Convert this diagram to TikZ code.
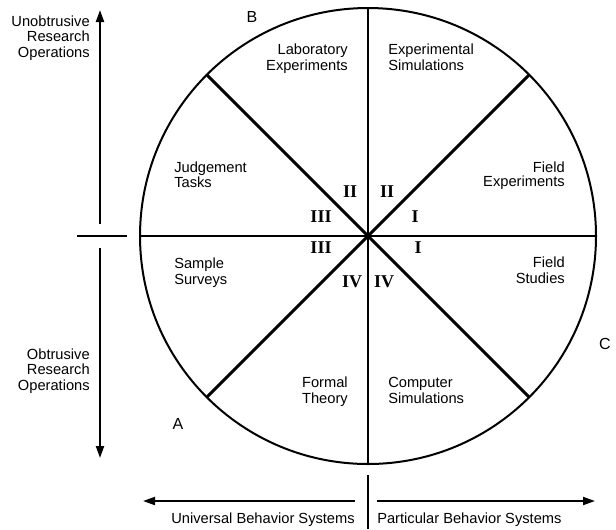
\documentclass[tikz,border=0pt]{standalone}
\usepackage{fontspec}
\setmainfont{Liberation Sans}
\newfontfamily\numfont{Liberation Serif}
\usetikzlibrary{arrows.meta}
\begin{document}
\begin{tikzpicture}[x=0.75pt, y=-0.75pt,
% common options for the texts:
txt/.style = {font=\fontsize{11}{11.6}\selectfont, inner sep=0},
tighttxt/.style = {font=\fontsize{11}{9.8}\selectfont, inner sep=0},
corner/.style = {font=\fontsize{12}{13}\selectfont, anchor=base, inner sep=0},
numeral/.style = {font=\numfont\bfseries\fontsize{13.5}{14}\selectfont,
            anchor=base, inner sep=0},
% common options for the lines:
axis/.style = {line width=1.5pt, -{Triangle[length=9pt,width=6pt]}},
rule/.style = {line width=1.5pt},
spoke/.style = {line width=2.3pt}]
\useasboundingbox (0,0) rectangle (616,529);
\node[circle, draw, line width=1.5pt, minimum size=342pt, inner sep=0,
      outer sep=0] (ring) at (368,236) {};
\draw[spoke] (ring.135) -- (ring.-45);
\draw[spoke] (ring.45) -- (ring.-135);
\draw[rule] (ring.north) -- (ring.south);
\draw[rule] (ring.west) -- (ring.east);
% axes
\coordinate (up0) at (100,224);
\coordinate (up1) at (100,10);
\coordinate (dn0) at (100,248);
\coordinate (dn1) at (100,458);
\coordinate (tickl) at (77,236);
\coordinate (tickr) at (127,236);
\coordinate (lt0) at (355,501);
\coordinate (lt1) at (143,501);
\coordinate (rt0) at (377,501);
\coordinate (rt1) at (595,501);
\coordinate (ticku) at (368,475);
\coordinate (tickd) at (368,529);
\draw[axis] (up0) -- (up1);
\draw[axis] (dn0) -- (dn1);
\draw[rule] (tickl) -- (tickr);
\draw[axis] (lt0) -- (lt1);
\draw[axis] (rt0) -- (rt1);
\draw[rule] (ticku) -- (tickd);
% axis texts
\node[txt, align=right, anchor=base east] (unob) at (90,57) {Unobtrusive\\Research\\Operations};
\node[txt, align=right, anchor=base east] (obtr) at (90,390) {Obtrusive\\Research\\Operations};
\node[txt, anchor=base east] (univ) at (355,523) {Universal Behavior Systems};
\node[txt, anchor=base west] (part) at (377,523) {Particular Behavior Systems};
\node[corner] (A) at (178,429) {A};
\node[corner] (B) at (252,22) {B};
\node[corner] (C) at (605,349) {C};
% sectors
\node[txt, align=right, anchor=base east] (lab) at (348,70) {Laboratory\\Experiments};
\node[txt, align=left, anchor=base west] (esim) at (388,70) {Experimental\\Simulations};
\node[tighttxt, align=left, anchor=base west] (judg) at (174,187) {Judgement\\Tasks};
\node[tighttxt, align=right, anchor=base east] (fexp) at (565,186) {Field\\Experiments};
\node[txt, align=left, anchor=base west] (samp) at (174,284) {Sample\\Surveys};
\node[txt, align=right, anchor=base east] (fstu) at (565,283) {Field\\Studies};
\node[txt, align=right, anchor=base east] (form) at (348,403) {Formal\\Theory};
\node[txt, align=left, anchor=base west] (csim) at (388,403) {Computer\\Simulations};
% quadrant numerals
\node[numeral] (IIa) at (350,197) {II};
\node[numeral] (IIb) at (387,197) {II};
\node[numeral] (IIIa) at (321,222) {III};
\node[numeral] (Ia) at (415,222) {I};
\node[numeral] (IIIb) at (321,253) {III};
\node[numeral] (Ib) at (418,253) {I};
\node[numeral] (IVa) at (352,287) {IV};
\node[numeral] (IVb) at (384,287) {IV};
\end{tikzpicture}
\end{document}
